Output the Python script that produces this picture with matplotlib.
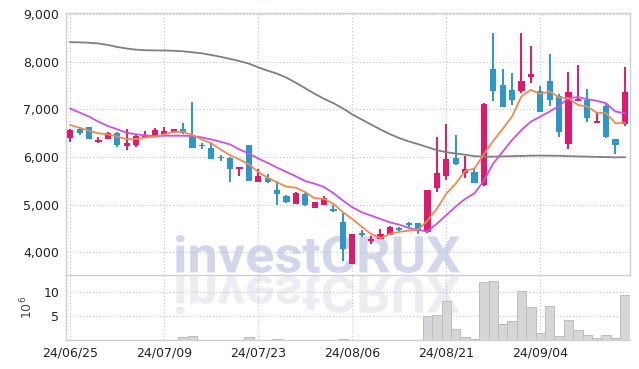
import matplotlib
matplotlib.use('Agg')
import matplotlib.pyplot as plt
import numpy as np
from matplotlib.textpath import TextPath
from matplotlib.font_manager import FontProperties
from matplotlib.patches import PathPatch
from matplotlib.transforms import Affine2D

# daily candles, 24/06/25 .. 24/09/20 (trading days)
opens = [6406, 6584, 6630, 6325, 6390, 6510, 6240, 6250, 6410, 6450,
         6485, 6520, 6590, 6430, 6250, 6190, 6000, 5990, 5750, 6250,
         5480, 5570, 5300, 5190, 5020, 5230, 4935, 5000, 4910, 4630,
         3765, 4400, 4230, 4280, 4370, 4500, 4600, 4610, 4420, 5360,
         5600, 5990, 5675, 5680, 5420, 7840, 7520, 7400, 7380, 7675,
         7380, 7605, 7275, 6265, 7195, 7200, 6725, 7075, 6370, 6690]
highs = [6580, 6640, 6640, 6430, 6530, 6520, 6600, 6480, 6555, 6610,
         6640, 6600, 6710, 7150, 6300, 6320, 6040, 6000, 5790, 6260,
         5740, 5640, 5500, 5200, 5260, 5240, 5060, 5175, 5000, 4840,
         4390, 4470, 4350, 4490, 4550, 4540, 4640, 4620, 5310, 6430,
         6700, 6465, 6020, 5740, 7130, 8610, 7850, 7770, 8610, 8330,
         7500, 8155, 7330, 7790, 7930, 7430, 6955, 7135, 6380, 7885]
lows = [6320, 6460, 6370, 6290, 6380, 6215, 6150, 6215, 6400, 6440,
        6450, 6500, 6490, 6190, 6170, 5955, 5920, 5485, 5600, 5490,
        5470, 5460, 4985, 5040, 5010, 4975, 4930, 4995, 4850, 3820,
        3760, 4330, 4180, 4270, 4360, 4420, 4540, 4385, 4410, 5265,
        5510, 5840, 5570, 5450, 5400, 7170, 7050, 7100, 7345, 7555,
        6950, 7075, 6425, 6180, 7190, 6745, 6720, 6410, 6060, 6650]
closes = [6569, 6512, 6380, 6355, 6500, 6250, 6290, 6440, 6460, 6570,
          6540, 6590, 6500, 6195, 6230, 5965, 5985, 5750, 5790, 5500,
          5600, 5470, 5215, 5050, 5250, 4985, 5055, 5140, 4865, 4065,
          4385, 4375, 4280, 4375, 4540, 4480, 4585, 4455, 5300, 5675,
          5950, 5845, 5760, 5455, 7120, 7380, 7060, 7200, 7590, 7755,
          6955, 7200, 6535, 7370, 7205, 6815, 6760, 6415, 6250, 7375]
volume = [0, 0, 0, 0, 0, 0, 0, 0, 0, 0,
          0, 0, 0.6, 0.9, 0, 0, 0, 0, 0, 0.6,
          0, 0, 0.25, 0, 0, 0, 0, 0, 0, 0.25,
          0, 0, 0, 0, 0, 0, 0, 0, 5.05, 5.1,
          8.0, 2.25, 0.6, 0.25, 11.9, 12.1, 3.3, 3.9, 10.1, 6.8,
          1.4, 7.0, 0.9, 4.1, 2.05, 1.1, 0.4, 1.1, 0.4, 9.3]
ma5 = [6675, 6615, 6555, 6500, 6478, 6430, 6375, 6380, 6414, 6427,
       6478, 6530, 6530, 6463, 6372, 6288, 6161, 6040, 5949, 5850,
       5687, 5569, 5470, 5380, 5358, 5265, 5138, 5125, 5019, 4842,
       4702, 4540, 4385, 4300, 4385, 4430, 4455, 4480, 4666, 4913,
       5230, 5442, 5709, 5759, 6060, 6340, 6590, 6850, 7273, 7414,
       7323, 7379, 7252, 7239, 7097, 7062, 6935, 6922, 6710, 6723]
ma20 = [7020, 6935, 6850, 6745, 6653, 6584, 6512, 6478, 6457, 6442,
        6449, 6449, 6449, 6442, 6414, 6372, 6322, 6267, 6161, 6076,
        5970, 5878, 5780, 5687, 5597, 5497, 5442, 5371, 5244, 5089,
        4948, 4842, 4772, 4702, 4631, 4582, 4512, 4470, 4440, 4600,
        4780, 4960, 5120, 5240, 5500, 5865, 6110, 6358, 6569, 6745,
        6850, 6956, 7076, 7239, 7260, 7218, 7182, 7133, 6956, 6922]
ma60 = [8415, 8410, 8402, 8387, 8355, 8313, 8281, 8256, 8245, 8241,
        8239, 8233, 8222, 8201, 8180, 8144, 8106, 8063, 8017, 7964,
        7886, 7816, 7753, 7668, 7562, 7446, 7330, 7224, 7133, 7023,
        6897, 6791, 6685, 6580, 6484, 6400, 6330, 6273, 6210, 6146,
        6104, 6076, 6051, 6019, 6010, 6010, 6015, 6020, 6025, 6030,
        6032, 6030, 6028, 6020, 6015, 6010, 6005, 6000, 5995, 6000]
tick_labels = ['24/06/25', '24/07/09', '24/07/23', '24/08/06', '24/08/21', '24/09/04']

UP = '#e2186a'
DOWN = '#2e97c9'
GRID = '#bcc3d9'
SPINE = '#cfcfd6'

fig = plt.figure(figsize=(6.39, 3.69), dpi=100)
ax = fig.add_axes([0.1033, 0.2547, 0.8826, 0.7113])
axv = fig.add_axes([0.1033, 0.0786, 0.8826, 0.1761], sharex=ax)
for a in (ax, axv):
    a.set_facecolor('none')
    a.set_zorder(1)

x = np.arange(len(closes))
o = np.array(opens)
c = np.array(closes)
colors = [UP if cc >= oo else DOWN for oo, cc in zip(o, c)]

ax.vlines(x, lows, highs, colors=colors, linewidth=1.4, zorder=3)
body = np.maximum(np.abs(c - o), 28)
bottom = np.minimum(o, c) - (body - np.abs(c - o)) / 2
ax.bar(x, body, bottom=bottom, width=0.66, color=colors, zorder=4)

ax.plot(x, ma60, color='#7f7f7f', lw=1.3, zorder=5)
ax.plot(x, ma20, color='#c752e8', lw=1.3, zorder=5)
ax.plot(x, ma5, color='#ef8a52', lw=1.3, zorder=5)

ax.set_xlim(-0.45, 59.55)
ax.set_ylim(3524, 9036)
ax.set_yticks([4000, 5000, 6000, 7000, 8000, 9000])
ax.set_yticklabels(['4,000', '5,000', '6,000', '7,000', '8,000', '9,000'])
ax.tick_params(axis='y', length=0, pad=5, labelsize=9, labelcolor='#222222')
ax.tick_params(axis='x', length=0, labelbottom=False)

axv.bar(x, volume, width=1.0, color='#d6d6d8', edgecolor='#bdbdc0', linewidth=0.7, zorder=3)
axv.set_ylim(0, 13.4)
axv.set_yticks([5, 10])
axv.set_ylabel('$10^6$', fontsize=9, color='#444444', labelpad=6)
axv.tick_params(axis='y', length=0, pad=5, labelsize=9, labelcolor='#222222')
axv.set_xticks(range(0, 60, 10))
axv.set_xticklabels(tick_labels)
axv.tick_params(axis='x', length=0, pad=5, labelsize=9, labelcolor='#222222')

for a in (ax, axv):
    a.grid(True, color=GRID, linestyle=(0, (1, 2)), linewidth=0.8)
    a.set_axisbelow(True)
    for s in a.spines.values():
        s.set_color(SPINE)
        s.set_linewidth(1.0)
axv.spines['top'].set_visible(False)
axv.spines['right'].set_visible(False)

# watermark and its reflection (figure pixel box)
W, H = 639.0, 369.0
tp = TextPath((0, 0), 'investCRUX', size=50, prop=FontProperties(family='Roboto', weight='bold'))
ext = tp.get_extents()
x0, x1 = 176, 460
ytop, ybot = 235, 273
sx = (x1 - x0) / ext.width / W
sy = (ybot - ytop) / ext.height / H
main_tr = Affine2D().translate(-ext.x0, -ext.y0).scale(sx, sy).translate(x0 / W, 1 - ybot / H)
refl_tr = Affine2D().translate(-ext.x0, -ext.y0).scale(sx, -sy).translate(x0 / W, 1 - (ybot + 3) / H)
fig.add_artist(PathPatch(tp, transform=main_tr + fig.transFigure, color='#d2d6eb', lw=0, zorder=0))
fig.add_artist(PathPatch(tp, transform=refl_tr + fig.transFigure, color='#ececf2', lw=0, zorder=0))

fig.savefig('out.png', dpi=100)
